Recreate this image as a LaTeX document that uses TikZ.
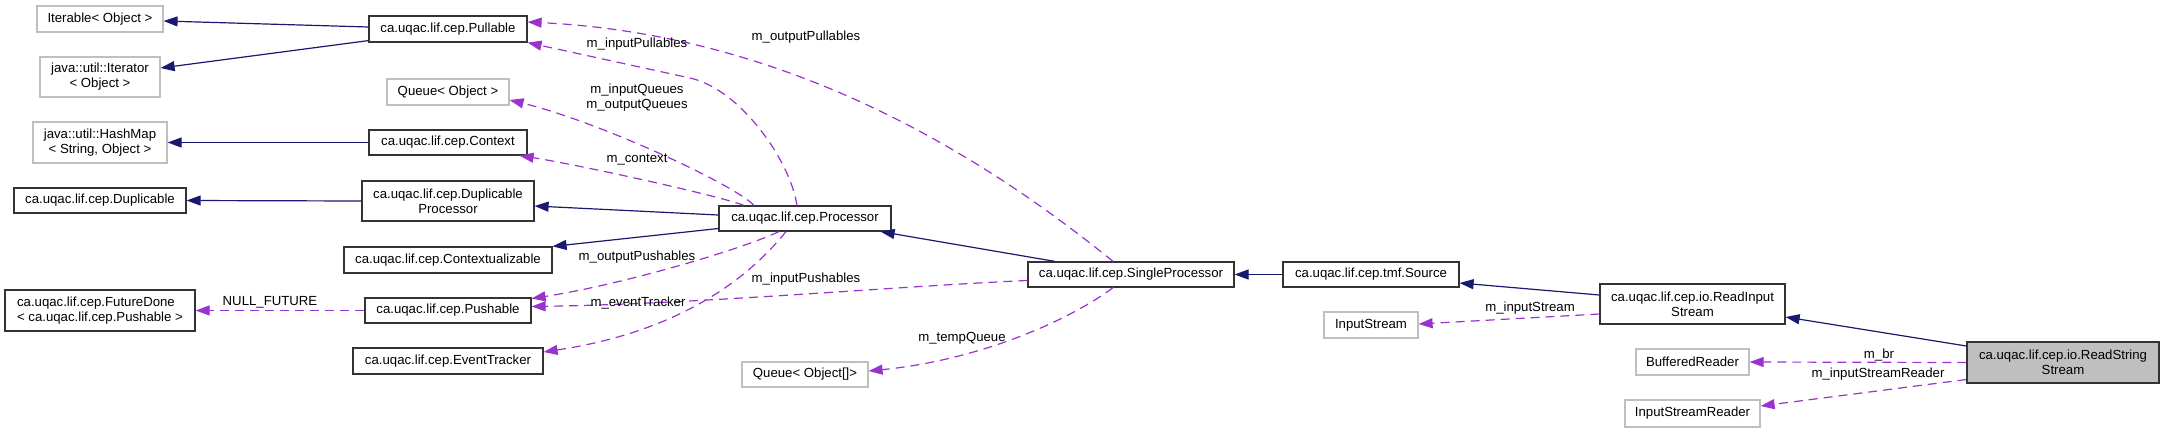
\documentclass[tikz,border=0pt]{standalone}
\usepackage{fontspec}
\setmainfont{Liberation Sans}
\usetikzlibrary{arrows.meta}
\definecolor{edgeblue}{HTML}{191970}
\definecolor{edgepurple}{HTML}{9A32CD}
\definecolor{boxgray}{HTML}{BFBFBF}

\begin{document}
\begin{tikzpicture}[x=1pt, y=-1pt,
    every node/.style={font=\fontsize{13.2}{15}\selectfont, inner sep=0pt},
    cls/.style={draw=black!80, line width=1.2pt, minimum height=25pt, align=center},
    ext/.style={draw=boxgray, line width=1.2pt, minimum height=26pt, align=center},
    inherit/.style={edgeblue, line width=1.2pt, -{Triangle[length=14pt, width=10pt]}},
    member/.style={edgepurple, line width=1.2pt, dash pattern=on 9pt off 6pt, -{Triangle[length=14pt, width=10pt]}}]
    \useasboundingbox (0,0) rectangle (2164,432);

    % Left column
    \node[ext, minimum width=126pt] (iterable) at (100,19) {Iterable< Object >};
    \node[ext, minimum width=120pt, minimum height=40pt] (iterator) at (100,77) {java::util::Iterator\\< Object >};
    \node[ext, minimum width=134pt, minimum height=41pt] (hashmap) at (100,142.5) {java::util::HashMap\\< String, Object >};
    \node[cls, minimum width=172pt] (duplicable) at (100,200.5) {ca.uqac.lif.cep.Duplicable};
    \node[cls, minimum width=190pt, minimum height=41pt, align=left] (futuredone) at (100,310.5) {ca.uqac.lif.cep.FutureDone\\< ca.uqac.lif.cep.Pushable >};

    % Middle column
    \node[cls, minimum width=158pt, minimum height=26pt] (pullable) at (448,29) {ca.uqac.lif.cep.Pullable};
    \node[ext, minimum width=122pt] (queueobj) at (448,92) {Queue< Object >};
    \node[cls, minimum width=158pt] (context) at (448,142.5) {ca.uqac.lif.cep.Context};
    \node[cls, minimum width=172pt, minimum height=40pt] (dupproc) at (448,201) {ca.uqac.lif.cep.Duplicable\\Processor};
    \node[cls, minimum width=208pt, minimum height=26pt] (contextualizable) at (448,260) {ca.uqac.lif.cep.Contextualizable};
    \node[cls, minimum width=166pt] (pushable) at (448,310.5) {ca.uqac.lif.cep.Pushable};
    \node[cls, minimum width=190pt, minimum height=26pt] (eventtracker) at (448,361) {ca.uqac.lif.cep.EventTracker};

    % Processor chain
    \node[cls, minimum width=172pt] (processor) at (805,218.5) {ca.uqac.lif.cep.Processor};
    \node[ext, minimum width=126pt, minimum height=25pt] (queuearr) at (805,374.5) {Queue< Object[]>};
    \node[cls, minimum width=206pt] (singleproc) at (1131,274.5) {ca.uqac.lif.cep.SingleProcessor};
    \node[cls, minimum width=176pt] (source) at (1371,274.5) {ca.uqac.lif.cep.tmf.Source};
    \node[ext, minimum width=94pt] (inputstream) at (1371,325) {InputStream};

    % Right column
    \node[cls, minimum width=185pt, minimum height=40pt] (readinput) at (1692.5,304) {ca.uqac.lif.cep.io.ReadInput\\Stream};
    \node[ext, minimum width=113pt] (bufreader) at (1692.5,362) {BufferedReader};
    \node[ext, minimum width=135pt, minimum height=27pt] (isreader) at (1692.5,413.5) {InputStreamReader};
    \node[cls, fill=boxgray, minimum width=192pt, minimum height=41pt] (readstring) at (2063,362.5) {ca.uqac.lif.cep.io.ReadString\\Stream};

    % Inheritance
    \draw[inherit] ([yshift=2pt]pullable.west) -- ([yshift=-2pt]iterable.east);
    \draw[inherit] ([yshift=2pt]pullable.south west) -- ([yshift=9pt]iterator.east);
    \draw[inherit] (context.west) -- (hashmap.east);
    \draw[inherit] (dupproc.west) -- (duplicable.east);
    \draw[inherit] ([yshift=3.5pt]processor.west) -- ([yshift=-5pt]dupproc.east);
    \draw[inherit] ([yshift=-10pt]processor.west) -- (contextualizable.north east);
    \draw[inherit] ([xshift=-76pt]singleproc.north) -- ([xshift=-11pt]processor.south east);
    \draw[inherit] (source.west) -- (singleproc.east);
    \draw[inherit] ([yshift=9pt]readinput.west) -- ([yshift=-8.5pt]source.east);
    \draw[inherit] ([yshift=16.5pt]readstring.west) -- ([yshift=-13pt]readinput.east);

    % Members
    \draw[member] ([xshift=-8pt]processor.north) .. controls (790,160) and (740,89) .. (690,78) -- (pullable.south east);
    \draw[member] ([xshift=-18pt]singleproc.north) .. controls (966,142) and (775,34) .. ([yshift=7pt]pullable.east);
    \draw[member] ([xshift=-51pt]processor.north) .. controls (735,185) and (600,122) .. ([yshift=-8pt]queueobj.east);
    \draw[member] ([xshift=-61pt]processor.north) .. controls (720,196) and (580,165) .. ([xshift=-8pt]context.south east);
    \draw[member] ([xshift=-26pt]processor.south) .. controls (740,250) and (620,285) .. ([yshift=12pt]pushable.east);
    \draw[member] ([yshift=-6pt]singleproc.west) .. controls (900,286) and (700,304) .. ([yshift=4pt]pushable.east);
    \draw[member] ([xshift=-19pt]processor.south) .. controls (755,270) and (690,330) .. ([yshift=9pt]eventtracker.east);
    \draw[member] (pushable.west) -- (futuredone.east);
    \draw[member] ([xshift=-18pt]singleproc.south) .. controls (1070,320) and (980,360) .. ([yshift=3.5pt]queuearr.east);
    \draw[member] ([yshift=-10pt]readinput.west) -- ([yshift=1pt]inputstream.east);
    \draw[member] (readstring.west) -- (bufreader.east);
    \draw[member] ([yshift=-17pt]readstring.west) -- ([yshift=7.5pt]isreader.east);

    % Labels
    \node (lblnull) at (270,302) {NULL\_FUTURE};
    \node (lblinpull) at (637,44) {m\_inputPullables};
    \node (lbloutpull) at (806,37) {m\_outputPullables};
    \node[align=center] (lblqueues) at (637,98) {m\_inputQueues\\m\_outputQueues};
    \node (lblcontext) at (637,160) {m\_context};
    \node (lbloutpush) at (637,257) {m\_outputPushables};
    \node (lblinpush) at (806,279) {m\_inputPushables};
    \node (lbltracker) at (638,303) {m\_eventTracker};
    \node (lbltemp) at (962,338) {m\_tempQueue};
    \node (lblstream) at (1530,308) {m\_inputStream};
    \node (lblbr) at (1879,355) {m\_br};
    \node (lblreader) at (1878,374) {m\_inputStreamReader};
\end{tikzpicture}
\end{document}
